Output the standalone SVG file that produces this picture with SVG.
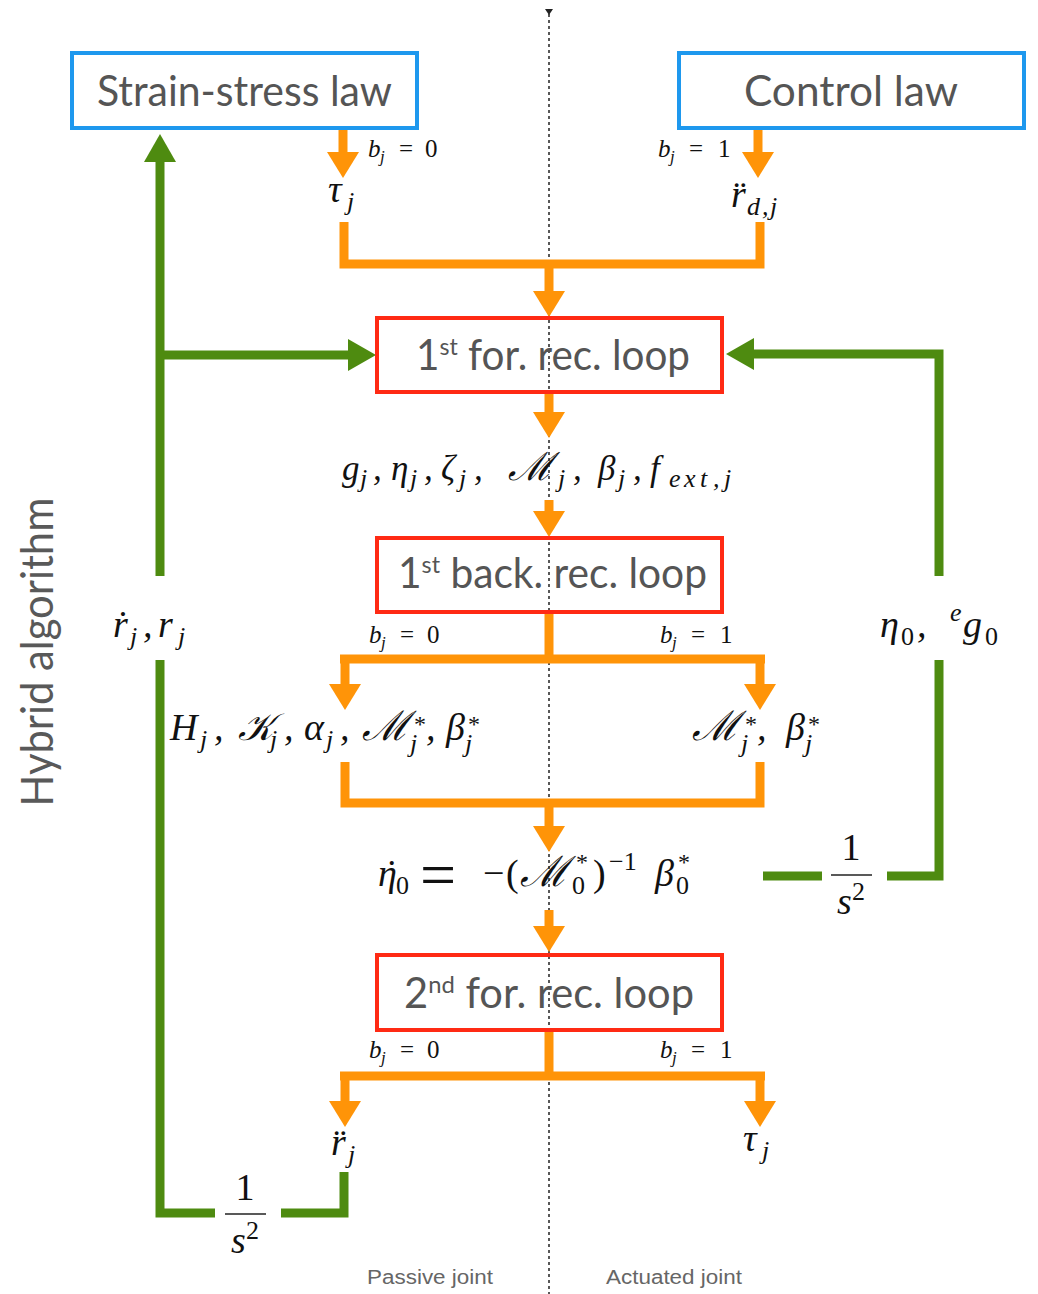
<svg xmlns="http://www.w3.org/2000/svg" width="1038" height="1294" viewBox="0 0 1038 1294">
<style>
.bx{fill:none;stroke-width:4}
.blue{stroke:#1E98EE}
.red{stroke:#FF2A14}
.bt{font-family:Lato,"Open Sans","Liberation Sans",sans-serif;font-size:42px;fill:#555}
.sup{font-size:24px}
.m{font-family:"Liberation Serif","DejaVu Serif",serif;font-style:italic;font-size:38px;fill:#111}
.g{font-size:35px}
.u{font-style:normal}
.s{font-size:26px}
.st{font-size:24px;font-style:normal}
.lab{font-family:"Liberation Serif","DejaVu Serif",serif;font-style:italic;font-size:25px;fill:#111}
.ls{font-size:17px}
.or{fill:none;stroke:#FF9408;stroke-width:9}
.gr{fill:none;stroke:#4E8B10;stroke-width:9}
.foot{font-family:"Liberation Sans",Arial,sans-serif;font-size:20px;fill:#666}
.side{font-family:Lato,"Open Sans","Liberation Sans",sans-serif;font-size:44px;fill:#595959}
.bar{stroke:#222;stroke-width:1.6}
</style>
<defs>
<marker id="ao" markerUnits="userSpaceOnUse" viewBox="0 0 26 32" markerWidth="26" markerHeight="32" refX="2" refY="16" orient="auto">
<path d="M0,0 L26,16 L0,32 Z" fill="#FF9408"/>
</marker>
<marker id="ag" markerUnits="userSpaceOnUse" viewBox="0 0 28 32" markerWidth="28" markerHeight="32" refX="2" refY="16" orient="auto">
<path d="M0,0 L28,16 L0,32 Z" fill="#4E8B10"/>
</marker>
</defs>
<rect width="1038" height="1294" fill="#fff"/>

<g id="divider">
<line x1="549" y1="14" x2="549" y2="1294" stroke="#222" stroke-width="1.5" stroke-dasharray="3 3"/>
<polygon points="545,9 553,9 549,15" fill="#222"/>
</g>

<g id="connectors">
<line class="or" x1="343" y1="128" x2="343" y2="154" marker-end="url(#ao)"/>
<line class="or" x1="758" y1="128" x2="758" y2="154" marker-end="url(#ao)"/>
<path class="or" d="M344,222 V264 H760 V222"/>
<line class="or" x1="549" y1="264" x2="549" y2="293" marker-end="url(#ao)"/>
<line class="or" x1="549" y1="392" x2="549" y2="414" marker-end="url(#ao)"/>
<line class="or" x1="549" y1="500" x2="549" y2="513" marker-end="url(#ao)"/>
<line class="or" x1="549" y1="612" x2="549" y2="659"/>
<line class="or" x1="340" y1="659" x2="765" y2="659"/>
<line class="or" x1="345" y1="655" x2="345" y2="686" marker-end="url(#ao)"/>
<line class="or" x1="760" y1="655" x2="760" y2="686" marker-end="url(#ao)"/>
<path class="or" d="M345,762 V803 H760 V762"/>
<line class="or" x1="549" y1="803" x2="549" y2="828" marker-end="url(#ao)"/>
<line class="or" x1="549" y1="910" x2="549" y2="928" marker-end="url(#ao)"/>
<line class="or" x1="549" y1="1030" x2="549" y2="1076"/>
<line class="or" x1="340" y1="1076" x2="765" y2="1076"/>
<line class="or" x1="345" y1="1072" x2="345" y2="1103" marker-end="url(#ao)"/>
<line class="or" x1="760" y1="1072" x2="760" y2="1103" marker-end="url(#ao)"/>
<line class="gr" x1="160" y1="576" x2="160" y2="160" marker-end="url(#ag)"/>
<line class="gr" x1="160" y1="355" x2="350" y2="355" marker-end="url(#ag)"/>
<path class="gr" d="M939,576 V354 H752" marker-end="url(#ag)"/>
<path class="gr" d="M939,660 V876 H887"/>
<line class="gr" x1="822" y1="876" x2="763" y2="876"/>
<path class="gr" d="M160,660 V1213 H215"/>
<path class="gr" d="M281,1213 H344 V1172"/>
</g>

<g id="strain-stress-law">
<rect class="bx blue" x="72" y="53" width="345" height="75"/>
<text class="bt" x="97" y="106" textLength="295" lengthAdjust="spacingAndGlyphs">Strain-stress law</text>
</g>
<g id="control-law">
<rect class="bx blue" x="679" y="53" width="345" height="75"/>
<text class="bt" x="744" y="106" textLength="214" lengthAdjust="spacingAndGlyphs">Control law</text>
</g>
<g id="first-forward-loop">
<rect class="bx red" x="377" y="318" width="345" height="74"/>
<text class="bt" x="416" y="370" textLength="274" lengthAdjust="spacingAndGlyphs">1<tspan class="sup" dy="-15">st</tspan><tspan dy="15"> for. rec. loop</tspan></text>
</g>
<g id="first-backward-loop">
<rect class="bx red" x="377" y="538" width="345" height="74"/>
<text class="bt" x="398" y="588" textLength="309" lengthAdjust="spacingAndGlyphs">1<tspan class="sup" dy="-15">st</tspan><tspan dy="15"> back. rec. loop</tspan></text>
</g>
<g id="second-forward-loop">
<rect class="bx red" x="377" y="955" width="345" height="75"/>
<text class="bt" x="404" y="1008" textLength="290" lengthAdjust="spacingAndGlyphs">2<tspan class="sup" dy="-15">nd</tspan><tspan dy="15"> for. rec. loop</tspan></text>
</g>

<g id="labels">
<!-- branch conditions -->
<text class="lab"><tspan x="368" y="157">b</tspan><tspan class="ls" x="380" y="162">j</tspan><tspan class="u" x="399" y="157">=</tspan><tspan class="u" x="425" y="157">0</tspan></text>
<text class="lab"><tspan x="658" y="157">b</tspan><tspan class="ls" x="670" y="162">j</tspan><tspan class="u" x="689" y="157">=</tspan><tspan class="u" x="718" y="157">1</tspan></text>
<text class="lab"><tspan x="369" y="643">b</tspan><tspan class="ls" x="381" y="648">j</tspan><tspan class="u" x="400" y="643">=</tspan><tspan class="u" x="427" y="643">0</tspan></text>
<text class="lab"><tspan x="660" y="643">b</tspan><tspan class="ls" x="672" y="648">j</tspan><tspan class="u" x="691" y="643">=</tspan><tspan class="u" x="720" y="643">1</tspan></text>
<text class="lab"><tspan x="369" y="1058">b</tspan><tspan class="ls" x="381" y="1063">j</tspan><tspan class="u" x="400" y="1058">=</tspan><tspan class="u" x="427" y="1058">0</tspan></text>
<text class="lab"><tspan x="660" y="1058">b</tspan><tspan class="ls" x="672" y="1063">j</tspan><tspan class="u" x="691" y="1058">=</tspan><tspan class="u" x="720" y="1058">1</tspan></text>
<!-- top variables -->
<text class="m"><tspan x="328" y="202">τ</tspan><tspan class="s" x="347" y="210">j</tspan></text>
<text class="m"><tspan x="731" y="207">r̈</tspan><tspan class="s" x="747 762 770" y="215">d,j</tspan></text>
<!-- forward outputs -->
<text class="m g"><tspan x="342" y="480">g</tspan><tspan class="s" x="360" y="487">j</tspan><tspan x="373" y="480">,</tspan><tspan x="391" y="480">η</tspan><tspan class="s" x="410" y="487">j</tspan><tspan x="424" y="480">,</tspan><tspan x="441" y="480">ζ</tspan><tspan class="s" x="459" y="487">j</tspan><tspan x="474" y="480">,</tspan><tspan x="508" y="480" font-size="39">ℳ</tspan><tspan class="s" x="558" y="487">j</tspan><tspan x="573" y="480">,</tspan><tspan x="598" y="480">β</tspan><tspan class="s" x="618" y="487">j</tspan><tspan x="633" y="480">,</tspan><tspan x="650" y="480">f</tspan><tspan class="s" x="669 684 700 713 724" y="487" font-size="28">ext,j</tspan></text>
<!-- feedback labels -->
<text class="m"><tspan x="113" y="637">ṙ</tspan><tspan class="s" x="130" y="645">j</tspan><tspan x="143" y="637">,</tspan><tspan x="158" y="637">r</tspan><tspan class="s" x="178" y="645">j</tspan></text>
<text class="m"><tspan x="880" y="637">η</tspan><tspan class="s u" x="901" y="645">0</tspan><tspan x="917" y="637">,</tspan><tspan class="s" x="950" y="621">e</tspan><tspan x="963" y="637">g</tspan><tspan class="s u" x="985" y="645">0</tspan></text>
<!-- backward outputs -->
<text class="m"><tspan x="170" y="740">H</tspan><tspan class="s" x="200" y="748">j</tspan><tspan x="214" y="740">,</tspan><tspan x="238" y="740">𝒦</tspan><tspan class="s" x="270" y="748">j</tspan><tspan x="284" y="740">,</tspan><tspan x="304" y="740">α</tspan><tspan class="s" x="326" y="748">j</tspan><tspan x="340" y="740">,</tspan><tspan x="362" y="740" font-size="41">ℳ</tspan><tspan class="st" x="414" y="732">*</tspan><tspan class="s" x="410" y="752">j</tspan><tspan x="426" y="740">,</tspan><tspan x="446" y="740">β</tspan><tspan class="st" x="468" y="732">*</tspan><tspan class="s" x="465" y="752">j</tspan></text>
<text class="m"><tspan x="692" y="740" font-size="41">ℳ</tspan><tspan class="st" x="745" y="732">*</tspan><tspan class="s" x="741" y="752">j</tspan><tspan x="757" y="740">,</tspan><tspan x="786" y="740">β</tspan><tspan class="st" x="808" y="732">*</tspan><tspan class="s" x="805" y="752">j</tspan></text>
<!-- base acceleration -->
<text class="m"><tspan x="378" y="886">η</tspan><tspan x="383" y="886">˙</tspan><tspan class="s u" x="396" y="894">0</tspan><tspan class="u" x="420" y="896" font-size="64">=</tspan><tspan class="u" x="483" y="886">−</tspan><tspan class="u" x="506" y="886">(</tspan><tspan x="520" y="886" font-size="42">ℳ</tspan><tspan class="st" x="576" y="870">*</tspan><tspan class="s u" x="572" y="894">0</tspan><tspan class="u" x="593" y="886">)</tspan><tspan class="s u" x="609" y="870" font-size="28">−1</tspan><tspan x="655" y="886">β</tspan><tspan class="st" x="678" y="870">*</tspan><tspan class="s u" x="676" y="894">0</tspan></text>
<!-- integrators -->
<text class="m u" x="851" y="860" font-size="36" text-anchor="middle">1</text>
<line class="bar" x1="831" y1="875" x2="872" y2="875"/>
<text class="m" x="851" y="914" font-size="36" text-anchor="middle">s<tspan class="s u" dy="-14">2</tspan></text>
<text class="m u" x="245" y="1200" font-size="36" text-anchor="middle">1</text>
<line class="bar" x1="225" y1="1214" x2="266" y2="1214"/>
<text class="m" x="245" y="1253" font-size="36" text-anchor="middle">s<tspan class="s u" dy="-14">2</tspan></text>
<!-- bottom outputs -->
<text class="m"><tspan x="331" y="1155">r̈</tspan><tspan class="s" x="348" y="1163">j</tspan></text>
<text class="m"><tspan x="743" y="1151">τ</tspan><tspan class="s" x="762" y="1159">j</tspan></text>
<!-- footer -->
<text class="foot" x="367" y="1284" textLength="126" lengthAdjust="spacingAndGlyphs">Passive joint</text>
<text class="foot" x="606" y="1284" textLength="136" lengthAdjust="spacingAndGlyphs">Actuated joint</text>
<text class="side" transform="translate(53,652) rotate(-90)" text-anchor="middle" textLength="309" lengthAdjust="spacingAndGlyphs">Hybrid algorithm</text>
</g>
</svg>
